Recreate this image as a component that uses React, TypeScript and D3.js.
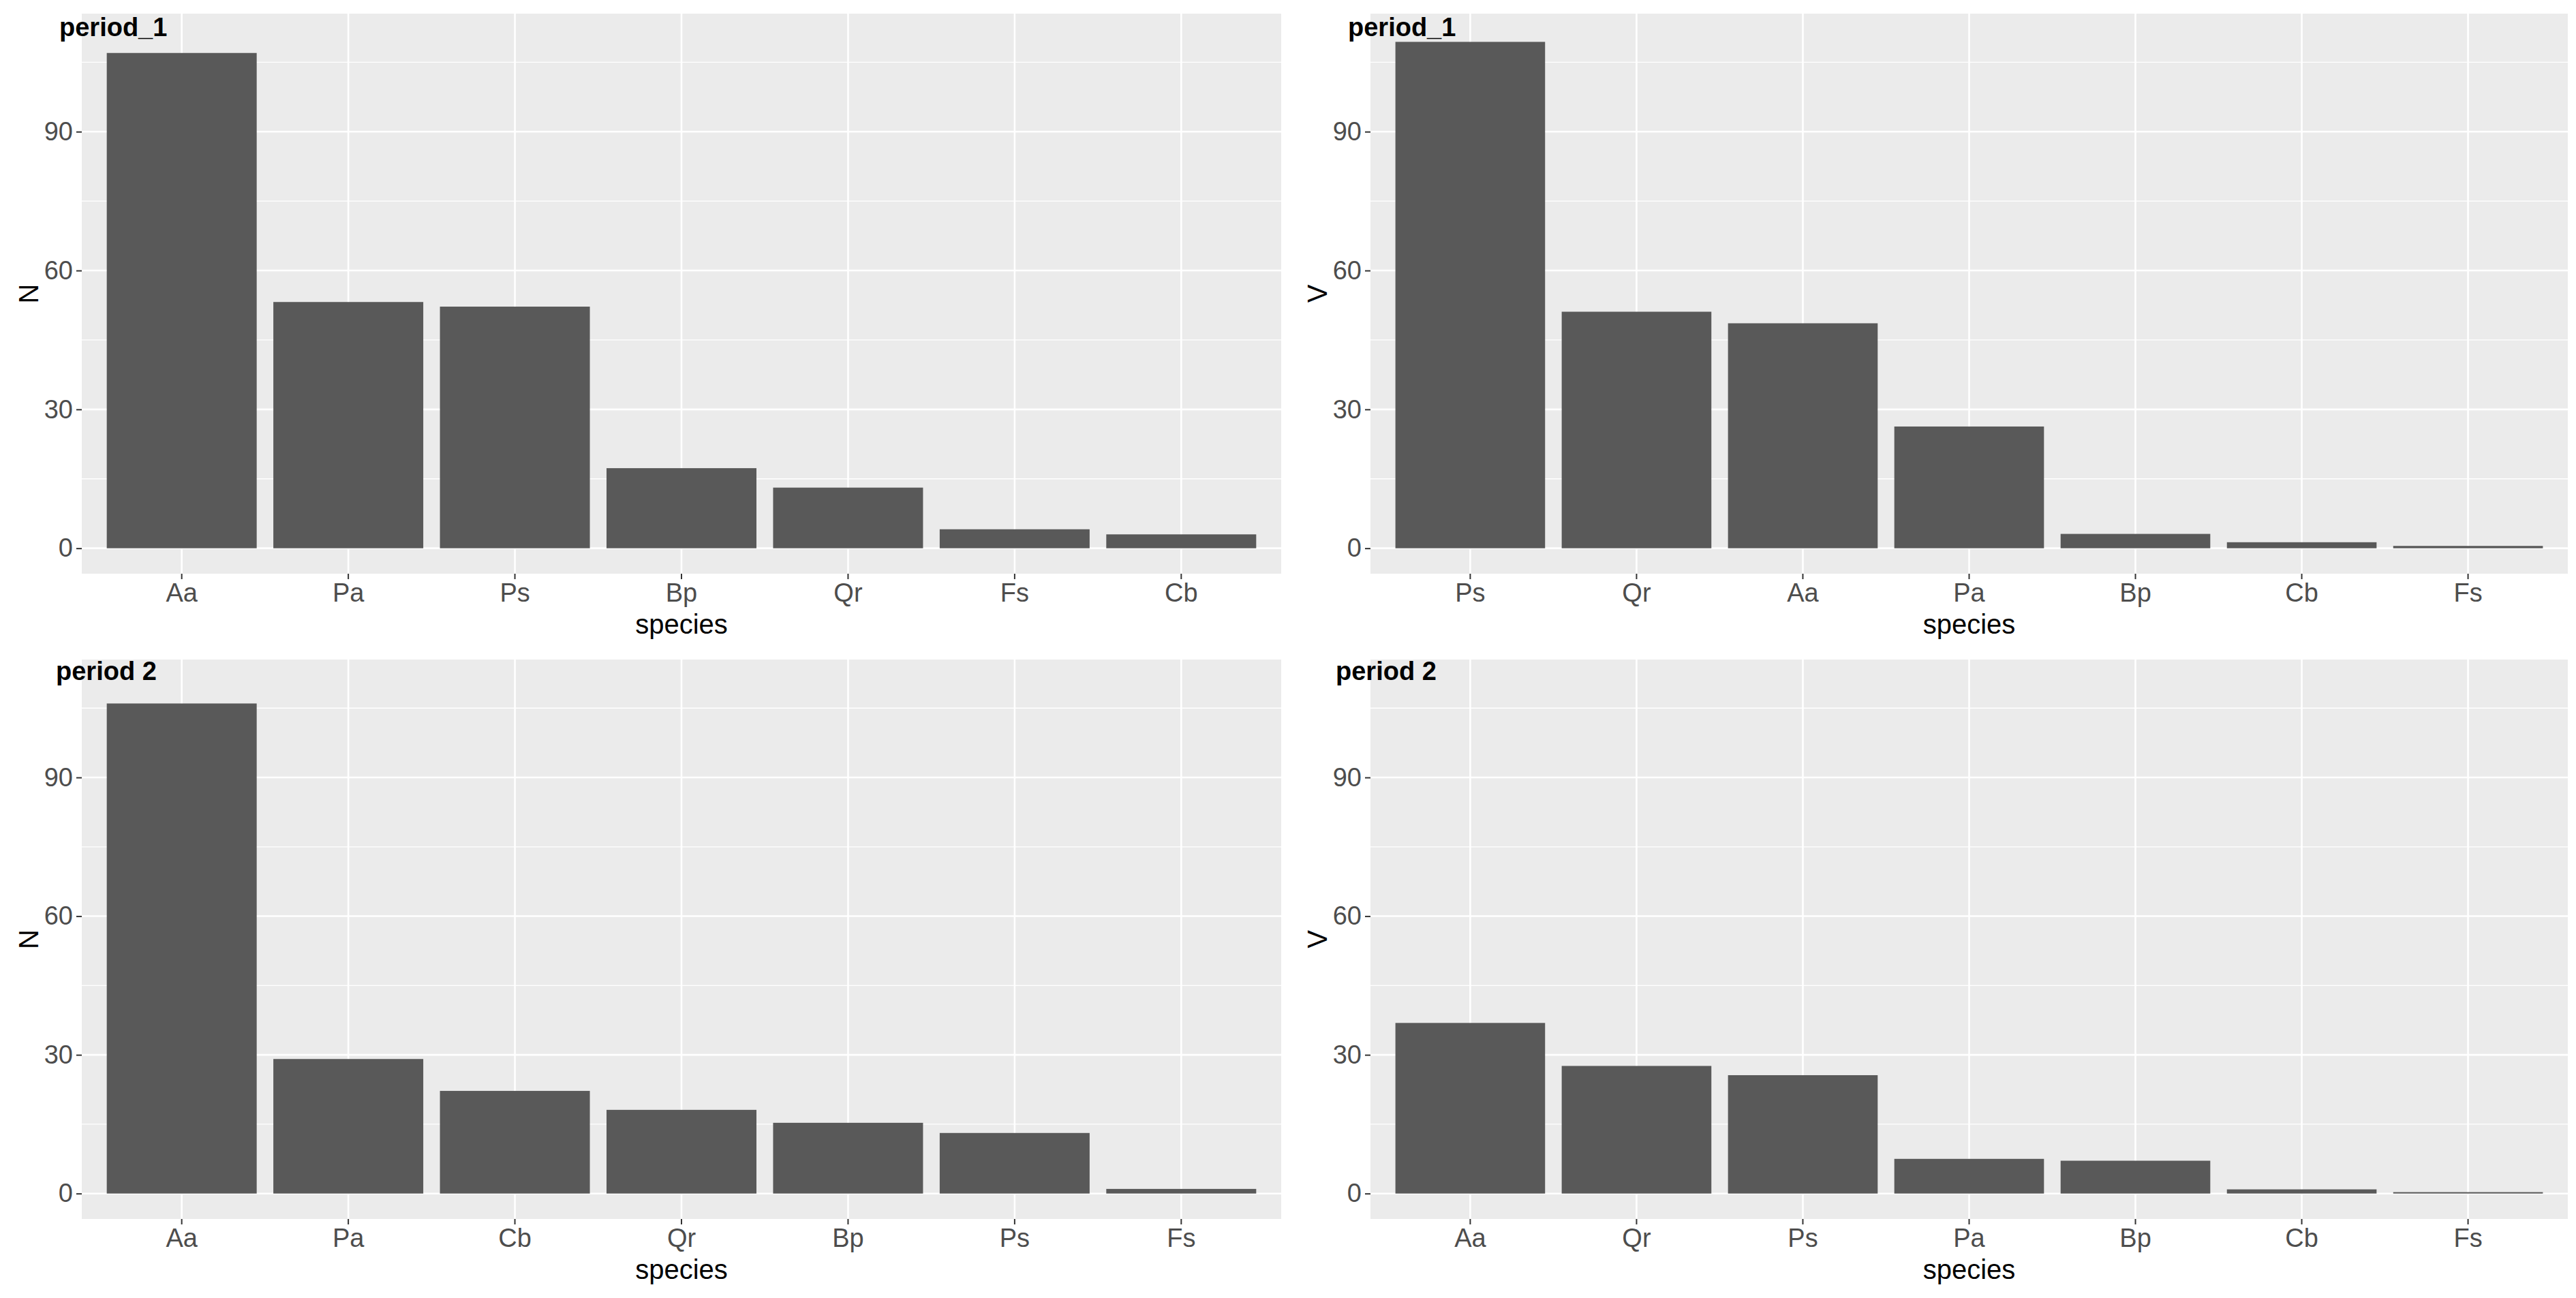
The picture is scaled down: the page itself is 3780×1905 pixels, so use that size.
import * as d3 from 'd3';
import { useEffect, useRef } from 'react';

// period 1, number of trees
const p1NSpecies = ['Aa', 'Pa', 'Ps', 'Bp', 'Qr', 'Fs', 'Cb'];
const p1N = [107, 53.2, 52.2, 17.3, 13.1, 4.1, 3];
// period 1, volume
const p1VSpecies = ['Ps', 'Qr', 'Aa', 'Pa', 'Bp', 'Cb', 'Fs'];
const p1V = [109.4, 51.1, 48.6, 26.3, 3.1, 1.3, 0.5];
// period 2, number of trees
const p2NSpecies = ['Aa', 'Pa', 'Cb', 'Qr', 'Bp', 'Ps', 'Fs'];
const p2N = [106, 29.1, 22.2, 18.1, 15.3, 13.1, 1];
// period 2, volume
const p2VSpecies = ['Aa', 'Qr', 'Ps', 'Pa', 'Bp', 'Cb', 'Fs'];
const p2V = [36.9, 27.6, 25.6, 7.5, 7.1, 0.9, 0.3];

const yTicks = [0, 30, 60, 90];
const yMinor = [15, 45, 75, 105];
const yLimits = [0, 110];

const FONT = "'Liberation Sans', Arial, sans-serif";

type PanelSpec = {
  label: string;
  yTitle: string;
  species: string[];
  values: number[];
  x0: number;
  x1: number;
  y0: number;
  y1: number;
  labelX: number;
  labelY: number;
};

const panels: PanelSpec[] = [
  { label: 'period_1', yTitle: 'N', species: p1NSpecies, values: p1N, x0: 120, x1: 1880, y0: 20, y1: 842, labelX: 87, labelY: 53 },
  { label: 'period_1', yTitle: 'V', species: p1VSpecies, values: p1V, x0: 2011, x1: 3768, y0: 20, y1: 842, labelX: 1978, labelY: 53 },
  { label: 'period 2', yTitle: 'N', species: p2NSpecies, values: p2N, x0: 120, x1: 1880, y0: 968, y1: 1789, labelX: 82, labelY: 998 },
  { label: 'period 2', yTitle: 'V', species: p2VSpecies, values: p2V, x0: 2011, x1: 3768, y0: 968, y1: 1789, labelX: 1960, labelY: 998 },
];

const App = () => {
  const ref = useRef<SVGSVGElement>(null);

  useEffect(() => {
    document.body.style.margin = '0';
    const svg = d3.select(ref.current);
    svg.selectAll('*').remove();

    const span = yLimits[1] - yLimits[0];
    const yDomain = [yLimits[0] - 0.05 * span, yLimits[1] + 0.05 * span];

    panels.forEach((p) => {
      const g = svg.append('g');

      const xScale = d3
        .scaleBand()
        .domain(p.species)
        .range([p.x0, p.x1])
        .paddingInner(0.1)
        .paddingOuter(0.15);

      const yScale = d3.scaleLinear().domain(yDomain).range([p.y1, p.y0]);

      // panel background
      g.append('rect')
        .attr('x', p.x0)
        .attr('y', p.y0)
        .attr('width', p.x1 - p.x0)
        .attr('height', p.y1 - p.y0)
        .attr('fill', '#EBEBEB');

      // minor grid
      g.selectAll('.minor')
        .data(yMinor)
        .enter()
        .append('line')
        .attr('x1', p.x0)
        .attr('x2', p.x1)
        .attr('y1', (d) => yScale(d))
        .attr('y2', (d) => yScale(d))
        .attr('stroke', '#FFFFFF')
        .attr('stroke-width', 1.3);

      // major grid
      g.selectAll('.major')
        .data(yTicks)
        .enter()
        .append('line')
        .attr('x1', p.x0)
        .attr('x2', p.x1)
        .attr('y1', (d) => yScale(d))
        .attr('y2', (d) => yScale(d))
        .attr('stroke', '#FFFFFF')
        .attr('stroke-width', 2.6);

      g.selectAll('.vgrid')
        .data(p.species)
        .enter()
        .append('line')
        .attr('x1', (d) => xScale(d)! + xScale.bandwidth() / 2)
        .attr('x2', (d) => xScale(d)! + xScale.bandwidth() / 2)
        .attr('y1', p.y0)
        .attr('y2', p.y1)
        .attr('stroke', '#FFFFFF')
        .attr('stroke-width', 2.6);

      // bars
      g.selectAll('.bar')
        .data(p.species)
        .enter()
        .append('rect')
        .attr('x', (d) => xScale(d)!)
        .attr('y', (_, i) => yScale(p.values[i]))
        .attr('width', xScale.bandwidth())
        .attr('height', (_, i) => yScale(0) - yScale(p.values[i]))
        .attr('fill', '#595959');

      // y axis
      const yAxis = g
        .append('g')
        .attr('transform', `translate(${p.x0},0)`)
        .call(d3.axisLeft(yScale).tickValues(yTicks).tickSize(8).tickPadding(5));
      yAxis.select('.domain').remove();
      yAxis.selectAll('line').attr('stroke', '#333333').attr('stroke-width', 2);
      yAxis
        .selectAll('text')
        .attr('fill', '#4D4D4D')
        .style('font-family', FONT)
        .style('font-size', '38px');

      // x axis
      const xAxis = g
        .append('g')
        .attr('transform', `translate(0,${p.y1})`)
        .call(d3.axisBottom(xScale).tickSize(8).tickPadding(6));
      xAxis.select('.domain').remove();
      xAxis.selectAll('line').attr('stroke', '#333333').attr('stroke-width', 2);
      xAxis
        .selectAll('text')
        .attr('fill', '#4D4D4D')
        .style('font-family', FONT)
        .style('font-size', '38px');

      // axis titles
      g.append('text')
        .attr('x', (p.x0 + p.x1) / 2)
        .attr('y', p.y1 + 88)
        .attr('text-anchor', 'middle')
        .style('font-family', FONT)
        .style('font-size', '40px')
        .attr('fill', '#000000')
        .text('species');

      g.append('text')
        .attr('transform', `translate(${p.x0 - 78},${(p.y0 + p.y1) / 2}) rotate(-90)`)
        .attr('text-anchor', 'middle')
        .attr('dy', '0.36em')
        .style('font-family', FONT)
        .style('font-size', '40px')
        .attr('fill', '#000000')
        .text(p.yTitle);

      // panel tag
      g.append('text')
        .attr('x', p.labelX)
        .attr('y', p.labelY)
        .style('font-family', FONT)
        .style('font-size', '38px')
        .style('font-weight', 'bold')
        .attr('fill', '#000000')
        .text(p.label);
    });
  }, []);

  return <svg ref={ref} width={3780} height={1905} style={{ display: 'block', background: '#FFFFFF' }} />;
};

export default App;
